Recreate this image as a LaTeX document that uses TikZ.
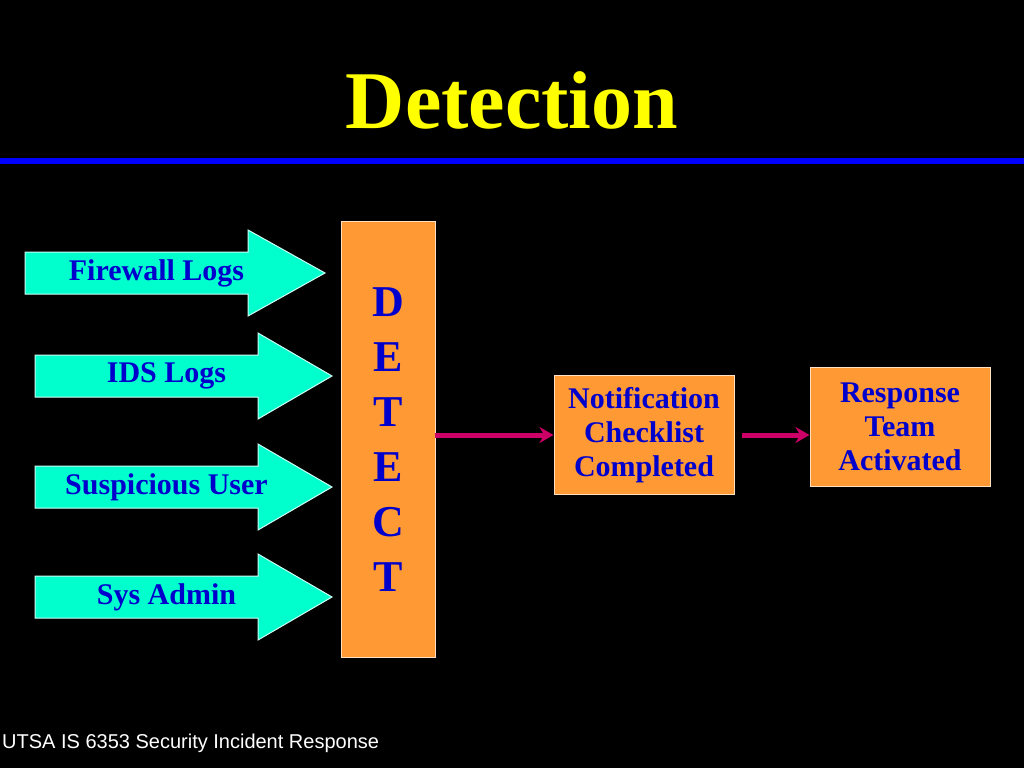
\documentclass[tikz,border=0pt]{standalone}
\usepackage{fontspec}
\setmainfont{Liberation Serif}
\setsansfont{Liberation Sans}
\definecolor{cy}{RGB}{0,255,204}
\definecolor{org}{RGB}{255,153,51}
\definecolor{lbl}{RGB}{0,0,204}
\definecolor{crim}{RGB}{204,0,102}
\definecolor{ttl}{RGB}{255,255,0}
\definecolor{bl}{RGB}{0,0,255}
\begin{document}
\begin{tikzpicture}[x=1pt,y=-1pt,
  inarrow/.style={fill=cy,draw=white!80!cy,line width=1pt},
  lbltext/.style={text=lbl,font=\fontsize{30}{34}\selectfont\bfseries},
  obox/.style={fill=org,draw=white!70!org,line width=1pt},
  conn/.style={draw=crim,line width=5pt,-{Stealth[length=14pt,width=16pt]}}]
\usetikzlibrary{arrows.meta}
\fill[black] (0,0) rectangle (1024,768);
\useasboundingbox (0,0) rectangle (1024,768);
\node[text=ttl,font=\fontsize{82}{90}\selectfont\bfseries] (title) at (512,100) {Detection};
\fill[bl] (0,158) rectangle (1024,164);
% input arrows
\foreach \n/\xa/\xb/\xt/\yc/\t in {fw/25/248/325/273/Firewall Logs, ids/35/258/332/376/IDS Logs, su/35/258/332/487/Suspicious User, sa/35/258/332/597/Sys Admin}{
  \draw[inarrow] (\xa,\yc-21) -- (\xb,\yc-21) -- (\xb,\yc-43) -- (\xt,\yc) -- (\xb,\yc+43) -- (\xb,\yc+21) -- (\xa,\yc+21) -- cycle;
  \node[lbltext] (\n) at ({(\xa+\xb)/2+20},\yc) {\t};
}
\draw[obox] (341,221) rectangle (435,657);
\node[lbltext,font=\fontsize{44}{55}\selectfont\bfseries,align=center] (det) at (388,440) {D\\E\\T\\E\\C\\T};
\node[obox,minimum width=180pt,minimum height=119pt,inner sep=0pt,lbltext,align=center] (note) at (644,435) {Notification\\Checklist\\Completed};
\node[obox,minimum width=180pt,minimum height=119pt,inner sep=0pt,lbltext,align=center] (resp) at (900,427) {Response\\Team\\Activated};
\coordinate (d1) at (435,435);
\draw[conn] (d1) -- (note.west|-d1);
\draw[conn] (742,435) -- (resp.west|-d1);
\node[text=white,font=\sffamily\fontsize{20}{24}\selectfont,anchor=west,inner sep=0pt] (foot) at (2,743) {UTSA IS 6353 Security Incident Response};
\end{tikzpicture}
\end{document}
